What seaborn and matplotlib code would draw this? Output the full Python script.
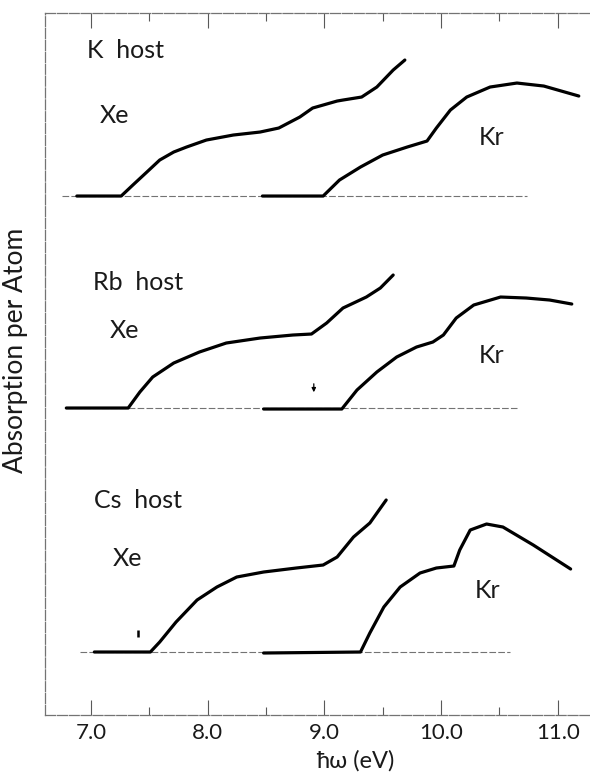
import numpy as np
import pandas as pd
import matplotlib
matplotlib.use("Agg")
import matplotlib.pyplot as plt
import seaborn as sns

# photon energy (eV) and absorption height above each panel's baseline (arb. units)
k_xe_e = [6.88, 7.26, 7.36, 7.48, 7.59, 7.71, 7.82, 7.99, 8.22, 8.45, 8.61, 8.79, 8.90, 8.99, 9.11, 9.16, 9.32, 9.45, 9.59, 9.69]
k_xe_a = [0.0, 0.0, 0.11, 0.24, 0.36, 0.44, 0.49, 0.56, 0.61, 0.64, 0.68, 0.79, 0.88, 0.91, 0.95, 0.96, 0.99, 1.09, 1.26, 1.36]
k_kr_e = [8.47, 8.99, 9.13, 9.31, 9.50, 9.71, 9.88, 9.96, 10.08, 10.22, 10.42, 10.65, 10.88, 11.18]
k_kr_a = [0.0, 0.0, 0.16, 0.29, 0.41, 0.49, 0.55, 0.68, 0.86, 0.99, 1.09, 1.13, 1.10, 1.00]

rb_xe_e = [6.79, 7.32, 7.42, 7.53, 7.71, 7.93, 8.16, 8.45, 8.73, 8.89, 9.02, 9.16, 9.36, 9.48, 9.59]
rb_xe_a = [0.0, 0.0, 0.16, 0.31, 0.45, 0.56, 0.65, 0.70, 0.73, 0.74, 0.85, 1.00, 1.11, 1.20, 1.33]
rb_kr_e = [8.48, 9.15, 9.28, 9.45, 9.62, 9.79, 9.93, 10.02, 10.13, 10.28, 10.51, 10.73, 10.93, 11.12]
rb_kr_a = [-0.01, -0.01, 0.18, 0.36, 0.51, 0.61, 0.66, 0.73, 0.90, 1.03, 1.11, 1.10, 1.08, 1.04]

cs_xe_e = [7.03, 7.51, 7.59, 7.73, 7.91, 8.08, 8.25, 8.48, 8.76, 8.99, 9.11, 9.25, 9.39, 9.53]
cs_xe_a = [0.0, 0.0, 0.10, 0.30, 0.52, 0.65, 0.75, 0.80, 0.84, 0.87, 0.95, 1.15, 1.29, 1.52]
cs_kr_e = [8.48, 9.31, 9.39, 9.51, 9.65, 9.82, 9.96, 10.11, 10.16, 10.25, 10.39, 10.53, 10.79, 11.11]
cs_kr_a = [-0.01, 0.0, 0.19, 0.45, 0.65, 0.79, 0.84, 0.86, 1.02, 1.22, 1.28, 1.25, 1.07, 0.83]

hosts = ["K  host", "Rb  host", "Cs  host"]
baseline_ranges = [(6.75, 10.74), (6.79, 10.65), (6.91, 10.59)]

# vertical offset of each panel
offsets = [5.19, 3.07, 0.63]

curves = [
    [(k_xe_e, k_xe_a), (k_kr_e, k_kr_a)],
    [(rb_xe_e, rb_xe_a), (rb_kr_e, rb_kr_a)],
    [(cs_xe_e, cs_xe_a), (cs_kr_e, cs_kr_a)],
]

sns.set_style("white")
plt.rcParams["font.family"] = ["Lato", "DejaVu Sans"]

fig = plt.figure(figsize=(5.9, 7.76), dpi=100)
ax = fig.add_axes([0.076, 0.0786, 0.924, 0.9046])

for i in range(3):
    off = offsets[i]
    lo, hi = baseline_ranges[i]
    ax.plot([lo, hi], [off, off], color="0.45", lw=0.8, ls=(0, (6, 2)))
    for e, a in curves[i]:
        df = pd.DataFrame({"energy": e, "absorption": np.array(a) + off})
        sns.lineplot(data=df, x="energy", y="absorption", sort=False, estimator=None,
                     color="black", lw=2.3, ax=ax, solid_capstyle="round", solid_joinstyle="round")

# labels
text_kw = dict(fontsize=18, color="#1a1a1a", va="center", ha="left")
label_pos = [
    [(6.97, 6.65), (7.08, 6.00), (10.32, 5.78)],
    [(7.02, 4.33), (7.16, 3.85), (10.32, 3.60)],
    [(7.03, 2.15), (7.19, 1.57), (10.29, 1.25)],
]
for i, host in enumerate(hosts):
    (hx, hy), (xx, xy), (kx, ky) = label_pos[i]
    ax.text(hx, hy, host, **text_kw)
    ax.text(xx, xy, "Xe", **text_kw)
    ax.text(kx, ky, "Kr", **text_kw)

# small arrows marking thresholds
ax.annotate("", xy=(8.91, offsets[1] + 0.13), xytext=(8.91, offsets[1] + 0.27),
            arrowprops=dict(arrowstyle="-|>", color="black", lw=0.9, mutation_scale=6))
ax.plot([7.40, 7.40], [offsets[2] + 0.15, offsets[2] + 0.22], color="black", lw=1.8,
        solid_capstyle="butt")

ax.set_xlim(6.606, 11.276)
ax.set_ylim(0, 7.02)
ax.set_xticks([7.0, 8.0, 9.0, 10.0, 11.0])
ax.set_xticklabels(["7.0", "8.0", "9.0", "10.0", "11.0"], fontsize=16, color="#1a1a1a")
ax.set_xticks([7.5, 8.5, 9.5, 10.5], minor=True)
ax.set_yticks([])
ax.tick_params(axis="x", which="major", direction="in", length=11, width=0.8, color="0.35",
               top=True, bottom=True, pad=6)
ax.tick_params(axis="x", which="minor", direction="in", length=6, width=0.8, color="0.35",
               top=True, bottom=True)
ax.set_xlabel("ħω (eV)", fontsize=17, color="#1a1a1a")
ax.xaxis.set_label_coords(0.569, -0.05)
ax.set_ylabel("Absorption per Atom", fontsize=19, color="#1a1a1a")
ax.yaxis.set_label_coords(-0.03, 0.52)

for side in ["left", "top", "bottom"]:
    ax.spines[side].set_color("0.45")
    ax.spines[side].set_linewidth(0.9)
    ax.spines[side].set_linestyle((0, (8, 1.5)))
ax.spines["right"].set_visible(False)

fig.savefig("out.png", dpi=100)
